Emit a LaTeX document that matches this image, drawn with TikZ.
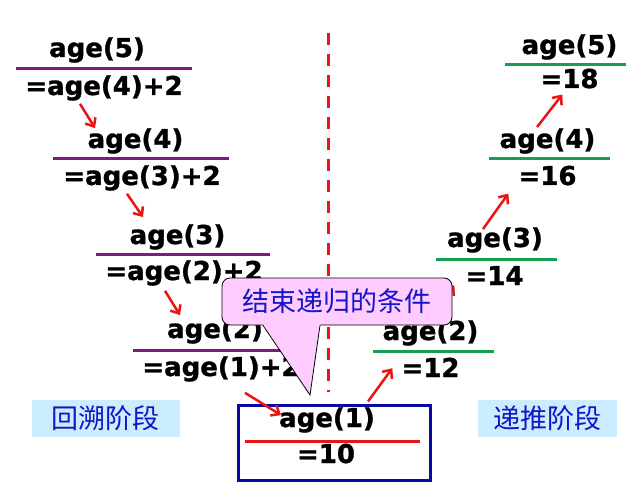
\documentclass[tikz,border=0pt]{standalone}
\usepackage{fontspec}
\setmainfont{DejaVu Sans}[BoldFeatures={FakeBold=1.2}]
\newfontfamily\cjk{Noto Sans CJK SC}
\usetikzlibrary{arrows.meta}
\definecolor{rulepurple}{RGB}{128,24,128}
\definecolor{rulegreen}{RGB}{20,160,80}
\definecolor{arrowred}{RGB}{235,20,20}
\definecolor{boxblue}{RGB}{10,10,160}
\definecolor{stagefill}{RGB}{204,236,255}
\definecolor{callfill}{RGB}{255,204,255}
\definecolor{cjkblue}{RGB}{20,20,200}
\begin{document}
\begin{tikzpicture}[x=1pt,y=-1pt]
    \tikzstyle{term} = [inner sep=0pt,anchor=base,font=\bfseries\fontsize{26}{30}\selectfont]
    \tikzstyle{left rule} = [rulepurple,line width=3pt]
    \tikzstyle{right rule} = [rulegreen,line width=3pt]
    \tikzstyle{arr} = [arrowred,line width=2.5pt,-{Straight Barb[length=7pt,width=12pt]}]
    \tikzstyle{stage} = [fill=stagefill,text=cjkblue,font=\cjk\fontsize{27}{30}\selectfont,minimum height=37pt,inner sep=0pt]

    \useasboundingbox (0,0) rectangle (638,484);

    % divider
    \draw[arrowred,line width=3pt,dash pattern=on 12pt off 9pt] (328,33) -- (328,392);

    % going down
    \node[term] (l5) at (97,57) {age(5)};
    \node[term] (l5v) at (104,95) {=age(4)+2};
    \node[term] (l4) at (135.5,148) {age(4)};
    \node[term] (l4v) at (142,185) {=age(3)+2};
    \node[term] (l3) at (177.5,244) {age(3)};
    \node[term] (l3v) at (184,280) {=age(2)+2};
    \node[term] (l2) at (215,338) {age(2)};
    \node[term] (l2v) at (221,376) {=age(1)+2};

    \draw[left rule] (16,69) -- (192,69);
    \draw[left rule] (53,159) -- (229,159);
    \draw[left rule] (96,255) -- (270,255);
    \draw[left rule] (133,350) -- (309,350);

    % going up
    \node[term] (r5) at (569.5,54) {age(5)};
    \node[term] (r5v) at (569.5,88) {=18};
    \node[term] (r4) at (547.5,148) {age(4)};
    \node[term] (r4v) at (547.5,185) {=16};
    \node[term] (r3) at (495,247) {age(3)};
    \node[term] (r3v) at (494.5,285) {=14};
    \node[term] (r2) at (430.5,340) {age(2)};
    \node[term] (r2v) at (430.5,377) {=12};

    \draw[right rule] (505,65) -- (626,65);
    \draw[right rule] (489,159) -- (610,159);
    \draw[right rule] (436,260) -- (557,260);
    \draw[right rule] (373,351) -- (494,351);

    % end case
    \node[draw=boxblue,line width=3pt,minimum width=192pt,minimum height=75pt] (box) at (334,442.5) {};
    \node[term] (b1) at (327,427) {age(1)};
    \node[term] (b1v) at (326,463) {=10};
    \draw[arrowred,line width=3pt] (245,441) -- (420,441);

    \draw[arr] ([shift={(-24,3)}]l5v.south) -- ([shift={(-40.5,0)}]l4.north);
    \draw[arr] ([shift={(-15,3)}]l4v.south) -- ([shift={(-34.5,-7)}]l3.north);
    \draw[arr] ([shift={(-19,5)}]l3v.south) -- ([shift={(-35,-3)}]l2.north);
    \draw[arr] ([shift={(24,11)}]l2v.south) -- ([shift={(-46,8)}]b1.north);
    \draw[arr] ([shift={(34,-2)}]box.north) -- ([shift={(-9,-9)}]r2v.south west);
    \draw[arr] ([shift={(-2.5,1)}]r2.north) -- ([shift={(-11,0)}]r3v.south west);
    \draw[arr] ([shift={(-12,2)}]r3.north) -- ([shift={(-10,8)}]r4v.south west);
    \draw[arr] ([shift={(-10.5,-1)}]r4.north) -- ([shift={(22,6)}]r5v.south west);

    % stages
    \node[stage,minimum width=148pt] (back) at (106,418.5) {回溯阶段};
    \node[stage,minimum width=139pt] (fwd) at (547.5,418.5) {递推阶段};

    % callout
    \node[draw,line width=0.8pt,fill=callfill,rounded corners=8pt,minimum width=230pt,minimum height=47pt,text=cjkblue,font=\cjk\fontsize{27}{30}\selectfont,inner sep=0pt] (cond) at (337,301.5) {结束递归的条件};
    \coordinate (tip) at (310,395);
    \fill[callfill] ([shift={(-74,-1.5)}]cond.south) -- (tip) -- ([shift={(-17,-1.5)}]cond.south) -- cycle;
    \draw[line width=0.8pt] ([xshift=-74pt]cond.south) -- (tip) -- ([xshift=-17pt]cond.south);
\end{tikzpicture}
\end{document}
